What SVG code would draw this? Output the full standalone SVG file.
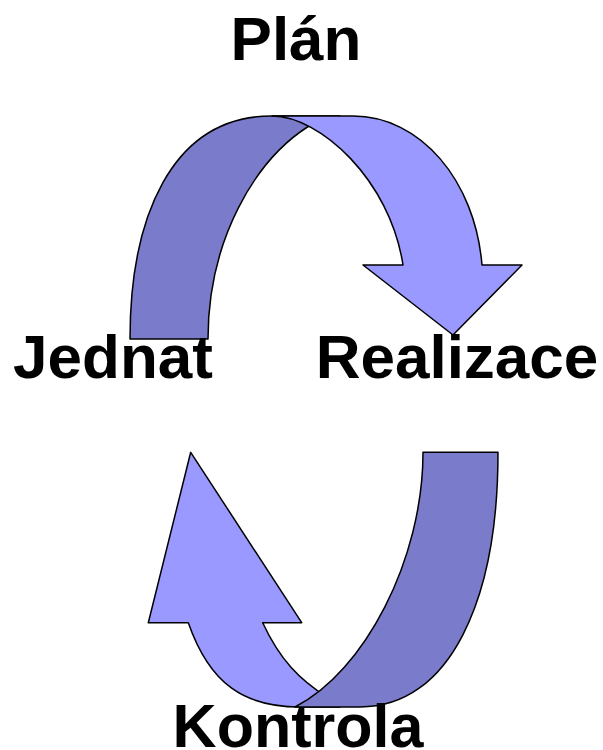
<svg xmlns="http://www.w3.org/2000/svg" width="603" height="750" viewBox="0 0 603 750">
<style>
.dark{fill:#7B7BCB;stroke:#000;stroke-width:1.5;stroke-linejoin:round}
.light{fill:#9999FF;stroke:#000;stroke-width:1.5;stroke-linejoin:round}
.lbl{font-family:"Liberation Sans",Arial,sans-serif;font-weight:bold;font-size:62px;fill:#000;text-anchor:middle}
</style>
<rect width="603" height="750" fill="#fff"/>
<g id="connectors">
<g id="arrow-top">
<path class="dark" d="M130,339 C130,220 170,116 272,116 L340,116 L309,126 C255,160 208,240 208,339 Z"/>
<path class="light" d="M272,116 L353,116 C420,116 475,180 482,265 L522,265 L453,335 L363,265 L403,265 C390,180 320,116 272,116 Z"/>
</g>
<g id="arrow-bottom">
<path class="light" d="M190.7,452.3 L148.3,622.7 L188.3,622.7 C210,685 245,707 300,707 L340,707 L327,697 C300,680 280,660 262.7,622.7 L301.7,622.7 Z"/>
<path class="dark" d="M423,452.3 L498,452.3 C498,600 450,707 360,707 L295,707 C364,672 423,560 423,452.3 Z"/>
</g>
</g>
<g id="node-plan"><text class="lbl" x="296" y="60">Plán</text></g>
<g id="node-jednat"><text class="lbl" x="113" y="378">Jednat</text></g>
<g id="node-realizace"><text class="lbl" x="457" y="378">Realizace</text></g>
<g id="node-kontrola"><text class="lbl" x="298" y="747" style="font-size:61px">Kontrola</text></g>
</svg>
